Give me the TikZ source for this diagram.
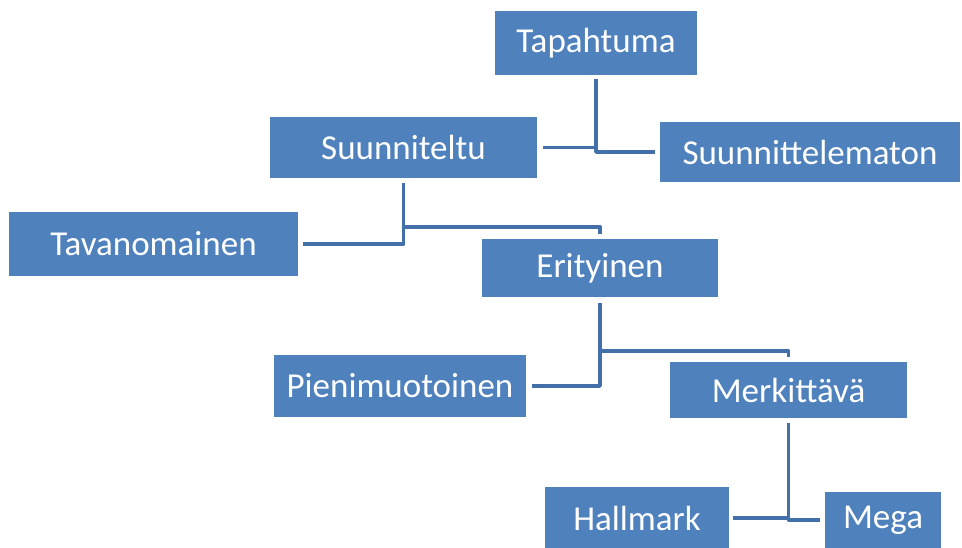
\documentclass[tikz,border=0pt]{standalone}
\usepackage{fontspec}
\setmainfont{Carlito}
\definecolor{boxblue}{HTML}{4F81BD}
\definecolor{lineblue}{HTML}{4470AA}
\begin{document}
\begin{tikzpicture}[x=1pt,y=-1pt,
  bx/.style={fill=boxblue,draw=none,text=white,inner sep=0pt,
    font=\fontsize{35}{38}\selectfont},
  conn/.style={draw=lineblue,line width=3.8pt,line join=round}]
\useasboundingbox (0,0) rectangle (962,548);
\node[bx,minimum width=202pt,minimum height=64pt] (tap) at (596,43) {Tapahtuma};
\node[bx,minimum width=267pt,minimum height=61pt] (suu) at (403.5,147.5) {Suunniteltu};
\node[bx,minimum width=300pt,minimum height=60pt] (sut) at (810,152) {Suunnittelematon};
\node[bx,minimum width=289pt,minimum height=64pt] (tav) at (153.5,244) {Tavanomainen};
\node[bx,minimum width=236pt,minimum height=58pt] (eri) at (600,268) {Erityinen};
\node[bx,minimum width=252pt,minimum height=62pt] (pie) at (400,386) {Pienimuotoinen};
\node[bx,minimum width=237pt,minimum height=56pt] (mer) at (788.5,390) {Merkittävä};
\node[bx,minimum width=184pt,minimum height=62pt] (hal) at (637,518) {Hallmark};
\node[bx,minimum width=116pt,minimum height=56pt] (meg) at (883,520) {Mega};
% connectors
\draw[conn] ([yshift=-4pt]tap.south) |- ([xshift=6pt]suu.east);
\draw[conn] ([yshift=-4pt]tap.south) |- ([xshift=-5pt]sut.west);
\draw[conn] ([yshift=-5pt]suu.south) |- ([xshift=5pt]tav.east);
\draw[conn] ([yshift=-5pt]suu.south) -- ++(0,44) -| ([yshift=5pt]eri.north);
\draw[conn] ([yshift=-6pt]eri.south) |- ([xshift=6pt]pie.east);
\draw[conn] ([yshift=-6pt]eri.south) -- ++(0,48) -| ([yshift=5pt]mer.north);
\draw[conn] ([yshift=-5pt]mer.south) |- ([xshift=4pt]hal.east);
\draw[conn] ([yshift=-5pt]mer.south) |- ([xshift=-5pt]meg.west);
\end{tikzpicture}
\end{document}
